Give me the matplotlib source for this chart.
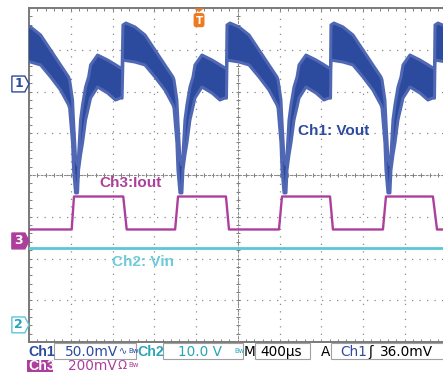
import numpy as np
import matplotlib.pyplot as plt
from matplotlib.patches import Polygon, Rectangle, FancyBboxPatch

W, H = 443, 372

# horizontal: 400 us/div, 10 divisions on screen
t_per_div = 400
# channel scale per division and ground marker position (divisions from centre)
ch1_scale, ch1_pos = 50.0, 2.18     # mV/div
ch2_scale, ch2_pos = 10.0, -3.59    # V/div
ch3_scale, ch3_pos = 200.0, -1.58   # mV/div

# Ch1 Vout envelope over one load cycle (us after load release, mV)
cyc_t = [0, 29, 115, 211, 307, 402, 479, 489, 517, 527, 546, 565, 575,
         594, 613, 642, 671, 690, 757, 853, 929, 977, 992]
cyc_hi = [70.7, 73, 68.3, 58.7, 40.7, 22.8, 8.4, 5, -19, -45, -88.6, -97, -85,
          -43, -25, -3.6, 8.4, 22.8, 34.7, 28.7, 23, 19.2, 19]
cyc_lo = [28.7, 28, 26.3, 22.8, 8.4, -7.2, -25, -28.7, -70.7, -103, -130.5, -130.5, -103,
          -85, -70.7, -43.1, -27.5, -16.8, -3.6, -10.8, -19.2, -16.8, -17]
cycle_starts = [-100, 900, 1897, 2893, 3890]

# Ch3 Iout (us, mV)
iout_t = [0, 409, 431, 903, 936, 1400, 1428, 1887, 1916, 2395, 2424,
          2884, 2912, 3391, 3420, 3870, 3909, 4000]
iout_v = [55, 55, 213, 213, 55, 55, 213, 213, 55, 55, 213,
          213, 55, 55, 213, 213, 55, 55]

# Ch2 Vin (us, V)
vin_t = [0, 4000]
vin_v = [18.4, 18.4]

trig_t = 1629  # trigger position, us

blue = '#2c4a9e'
blue_lt = '#5068b4'
mag = '#ad3f9c'
cyan = '#5cc6d6'
teal = '#2aa5b5'
grey = '#808080'

fig = plt.figure(figsize=(W / 100, H / 100), dpi=100)
fig.patch.set_facecolor('white')
pos = [29 / W, 1 - 342 / H, 417.5 / W, 334 / H]

# graticule
ax_g = fig.add_axes(pos)
ax_g.set_xlim(0, 10)
ax_g.set_ylim(-4, 4)
ax_g.set_xticks(np.arange(0, 11))
ax_g.set_yticks(np.arange(-4, 5))
ax_g.set_xticks(np.arange(0, 10.01, 0.2), minor=True)
ax_g.set_yticks(np.arange(-4, 4.01, 0.2), minor=True)
ax_g.grid(True, which='major', color='#8a8a8a', linestyle=(0, (1, 5)), linewidth=0.9)
ax_g.tick_params(which='both', direction='in', length=2.5, width=0.7, color=grey,
                 top=True, right=True, labelbottom=False, labelleft=False)
for s in ax_g.spines.values():
    s.set_color('#7a7a7a')
    s.set_linewidth(1.4)

# centre crosshair with small ticks
ax_c = fig.add_axes(pos, sharex=ax_g, sharey=ax_g)
ax_c.patch.set_visible(False)
ax_c.spines['left'].set_position(('data', 5))
ax_c.spines['bottom'].set_position(('data', 0))
ax_c.spines['top'].set_visible(False)
ax_c.spines['right'].set_visible(False)
for k in ['left', 'bottom']:
    ax_c.spines[k].set_color('#8a8a8a')
    ax_c.spines[k].set_linewidth(0.7)
    ax_c.spines[k].set_linestyle((0, (2, 2)))
ax_c.tick_params(which='both', direction='inout', length=3.5, width=0.7, color='#7a7a7a',
                 labelbottom=False, labelleft=False)

def chan_axes(scale, zero_pos):
    a = fig.add_axes(pos)
    a.set_xlim(0, 10 * t_per_div)
    a.set_ylim((-4 - zero_pos) * scale, (4 - zero_pos) * scale)
    a.axis('off')
    a.patch.set_visible(False)
    return a

# Ch1
ax1 = chan_axes(ch1_scale, ch1_pos)
t1, hi1, lo1 = [], [], []
for s in cycle_starts:
    t1 += [s + c for c in cyc_t]
    hi1 += cyc_hi
    lo1 += cyc_lo
ax1.fill_between(t1, lo1, hi1, facecolor=blue, edgecolor=blue_lt, linewidth=2.2)

# Ch3
ax3 = chan_axes(ch3_scale, ch3_pos)
ax3.plot(iout_t, iout_v, color=mag, linewidth=1.7)

# Ch2
ax2 = chan_axes(ch2_scale, ch2_pos)
ax2.plot(vin_t, vin_v, color=cyan, linewidth=2.0)

# channel ground markers
def chan_marker(ypos, label, edge, face, tcol):
    pts = [(-0.41, ypos - 0.19), (-0.1, ypos - 0.19), (0, ypos),
           (-0.1, ypos + 0.19), (-0.41, ypos + 0.19)]
    ax_g.add_patch(Polygon(pts, closed=True, facecolor=face, edgecolor=edge,
                           linewidth=1.0, clip_on=False, zorder=10))
    ax_g.text(-0.25, ypos, label, color=tcol, fontsize=9, fontweight='bold',
              ha='center', va='center', clip_on=False, zorder=11)

chan_marker(ch1_pos, '1', blue, 'white', blue)
chan_marker(ch3_pos, '3', mag, mag, 'white')
chan_marker(ch2_pos, '2', cyan, 'white', teal)

# trigger marker
tx = trig_t / t_per_div
ax_g.add_patch(Polygon([(tx - 0.12, 3.99), (tx + 0.12, 3.99), (tx, 3.9)], closed=True,
                       facecolor='#f07a1e', edgecolor='none', clip_on=False, zorder=10))
ax_g.add_patch(FancyBboxPatch((tx - 0.13, 3.54), 0.26, 0.34, boxstyle='round,pad=0,rounding_size=0.06',
                              facecolor='#f07a1e', edgecolor='none', clip_on=False, zorder=10))
ax_g.text(tx, 3.7, 'T', color='white', fontsize=7.5, fontweight='bold',
          ha='center', va='center', zorder=11)

# trace labels
def ptext(x, y, s, **kw):
    fig.text(x / W, 1 - y / H, s, **kw)

lab = dict(fontsize=11, fontweight='bold', family='Liberation Sans', ha='center', va='center')
ptext(334, 131, 'Ch1: Vout', color=blue, **lab)
ptext(131, 183, 'Ch3:Iout', color=mag, **lab)
ptext(143.5, 261.5, 'Ch2: Vin', color='#6ccbdb', **lab)

# readout boxes
def pbox(x0, x1, y0, y1, **kw):
    fig.add_artist(Rectangle((x0 / W, 1 - y1 / H), (x1 - x0) / W, (y1 - y0) / H,
                             transform=fig.transFigure, **kw))

pbox(54, 136, 343, 359, facecolor='white', edgecolor='#a0a0a0', linewidth=0.8)
pbox(163, 243, 343, 359, facecolor='white', edgecolor='#a0a0a0', linewidth=0.8)
pbox(255, 310, 343, 359, facecolor='white', edgecolor='#a0a0a0', linewidth=0.8)
pbox(331, 460, 343, 359, facecolor='white', edgecolor='#a0a0a0', linewidth=0.8)
pbox(27, 53, 360, 373, facecolor=mag, edgecolor='none')

ro = dict(fontsize=9.8, family=['DejaVu Sans'], ha='left', va='baseline')
chl = dict(fontsize=10.2, family=['Liberation Sans'], fontweight='bold', ha='left', va='baseline')
small = dict(fontsize=5, family=['DejaVu Sans'], ha='left', va='baseline')
ptext(28, 356, 'Ch1', color=blue, **chl)
ptext(65, 356, '50.0mV', color=blue, **ro)
ptext(119, 354, '\u223f', color=blue, fontsize=7, family=['DejaVu Sans'], ha='left', va='baseline')
ptext(128, 353, 'Bw', color=blue, **small)
ptext(137.5, 356, 'Ch2', color=teal, **chl)
ptext(178, 356, '10.0 V', color=teal, **ro)
ptext(234, 353, 'Bw', color=teal, **small)
ptext(244, 356, 'M', color='black', **ro)
ptext(260, 356, '400\u00b5s', color='black', **ro)
ptext(321, 356, 'A', color='black', **ro)
ptext(340, 356, 'Ch1', color=blue, **ro)
ptext(368, 356, '\u0283', color='black', **ro)
ptext(380, 356, '36.0mV', color='black', **ro)

ptext(28, 369.5, 'Ch3', color='white', **chl)
ptext(68, 369.5, '200mV', color=mag, **ro)
ptext(117, 369, '\u03a9', color=mag, fontsize=8.5, family=['DejaVu Sans'], ha='left', va='baseline')
ptext(128, 367, 'Bw', color=mag, **small)

fig.savefig('out.png', dpi=100)
